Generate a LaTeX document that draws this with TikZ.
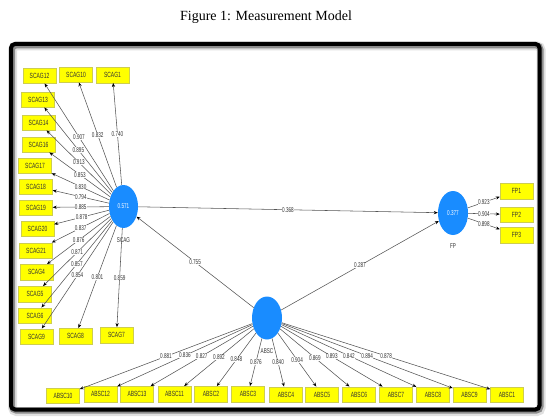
\documentclass[tikz,border=0pt]{standalone}
\usepackage{fontspec}
\setmainfont{Liberation Serif}
\newfontfamily\lblfont[FakeStretch=0.66]{Liberation Sans}
\usetikzlibrary{shapes.geometric,arrows.meta}
\definecolor{lvblue}{RGB}{25,140,255}
\definecolor{indyel}{RGB}{255,255,0}
\definecolor{indedge}{RGB}{205,205,80}
\definecolor{edgegray}{RGB}{85,85,85}
\begin{document}
\begin{tikzpicture}[x=1pt,y=-1pt,
  lv/.style={ellipse, fill=lvblue, draw=none, inner sep=0pt, minimum width=29pt, minimum height=43pt, text=white, font=\lblfont\fontsize{7}{8}\selectfont},
  ind/.style={rectangle, fill=indyel, draw=indedge, line width=0.4pt, minimum width=33pt, minimum height=15.5pt, inner sep=0pt, font=\lblfont\fontsize{7.5}{8}\selectfont, text=black!80},
  ld/.style={draw=edgegray, line width=0.55pt, -{Stealth[length=4pt,width=3.2pt,black]}},
  val/.style={fill=white, inner sep=0.4pt, font=\lblfont\fontsize{7}{8}\selectfont, text=black!80},
  lvname/.style={font=\lblfont\fontsize{7}{8}\selectfont, text=black!80},
  frame/.style={rounded corners=4pt}
]
\useasboundingbox (0,0) rectangle (548,417);
% title
\node[font=\fontsize{14}{16}\selectfont] (title) at (266,17.5) {Figure 1: Measurement Model};
% frame with shadow
\draw[frame, line width=9pt, black!12] (12.5,46) rectangle (541,411.5);
\draw[frame, line width=6pt, black!45] (12,45.5) rectangle (540.5,410.5);
\draw[frame, line width=4pt, black] (11,44) rectangle (539.5,409.5);

% latent variables
\node[lv] (Lscag) at (123.5,206.5) {0.571};
\node[lv, minimum width=30pt, minimum height=44pt] (Lfp) at (453,213) {0.377};
\node[lv, minimum width=30pt] (Labsc) at (267,318) {};
\node[lvname] (nscag) at (123.5,240) {SCAG};
\node[lvname] (nfp) at (453,246) {FP};
\node[lvname] (nabsc) at (267,351) {ABSC};

% SCAG indicators
\foreach \n/\x/\y in {SCAG12/39.5/75.5, SCAG10/76/74.5, SCAG1/112.5/75, SCAG13/38/99.5,
  SCAG14/38.5/122.5, SCAG16/38.5/144.5, SCAG17/35/165.5, SCAG18/36/186.5, SCAG19/36/207.5,
  SCAG20/37.5/228.5, SCAG21/36/250.5, SCAG4/36.5/272, SCAG5/35/294, SCAG6/35/315.5,
  SCAG9/36.5/336.5, SCAG8/75.5/336, SCAG7/116.5/335}
  {\node[ind] (\n) at (\x,\y) {\n};}
% ABSC indicators
\foreach \n/\x/\y in {ABSC10/63/395.5, ABSC12/100.5/394, ABSC13/137/394, ABSC11/174.5/394,
  ABSC2/211/394, ABSC3/248/394, ABSC4/286/394.5, ABSC5/322/394.5, ABSC6/359/394.5,
  ABSC7/396/394.5, ABSC8/433/394.5, ABSC9/469.5/394.5, ABSC1/507/394.5}
  {\node[ind] (\n) at (\x,\y) {\n};}
% FP indicators
\foreach \n/\y in {FP1/191, FP2/214.5, FP3/235}
  {\node[ind] (\n) at (516.5,\y) {\n};}

% connectors
\foreach \n in {SCAG12,SCAG10,SCAG1,SCAG13,SCAG14,SCAG16,SCAG17,SCAG18,SCAG19,SCAG20,SCAG21,SCAG4,SCAG5,SCAG6,SCAG9,SCAG8,SCAG7}
  {\draw[ld] (Lscag) -- (\n);}
\foreach \n in {ABSC10,ABSC12,ABSC13,ABSC11,ABSC2,ABSC3,ABSC4,ABSC5,ABSC6,ABSC7,ABSC8,ABSC9,ABSC1}
  {\draw[ld] (Labsc) -- (\n);}
\foreach \n in {FP1,FP2,FP3}
  {\draw[ld] (Lfp) -- (\n);}
\draw[ld] (Lscag) -- (Lfp);
\draw[ld] (Labsc) -- (Lscag);
\draw[ld] (Labsc) -- (Lfp);

% values
\foreach \n/\v in {SCAG12/0.907, SCAG10/0.832, SCAG1/0.740, SCAG13/0.895, SCAG14/0.913,
  SCAG16/0.853, SCAG17/0.830, SCAG18/0.794, SCAG19/0.885, SCAG20/0.878, SCAG21/0.837,
  SCAG4/0.876, SCAG5/0.871, SCAG6/0.857, SCAG9/0.854, SCAG8/0.801, SCAG7/0.859}
  {\path (Lscag) -- node[val] {\v} (\n);}
\foreach \n/\v in {ABSC10/0.881, ABSC12/0.836, ABSC13/0.827, ABSC11/0.892, ABSC2/0.848,
  ABSC3/0.876, ABSC4/0.840, ABSC5/0.904, ABSC6/0.869, ABSC7/0.893, ABSC8/0.842,
  ABSC9/0.894, ABSC1/0.878}
  {\path (Labsc) -- node[val] {\v} (\n);}
\foreach \n/\v in {FP1/0.923, FP2/0.904, FP3/0.898}
  {\path (Lfp) -- node[val] {\v} (\n);}
\path (Lscag) -- node[val] {0.368} (Lfp);
\path (Labsc) -- node[val] {0.755} (Lscag);
\path (Labsc) -- node[val] {0.287} (Lfp);
\end{tikzpicture}
\end{document}
